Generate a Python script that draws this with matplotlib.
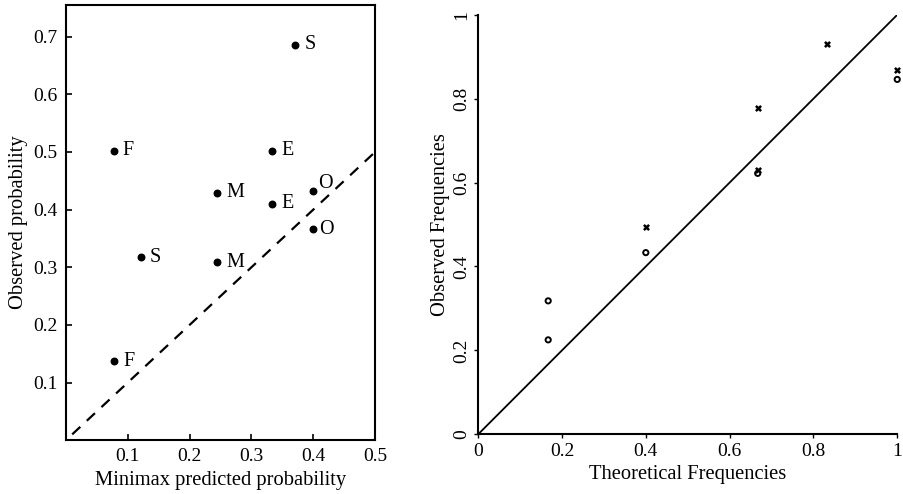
import matplotlib
matplotlib.use("Agg")
import matplotlib.pyplot as plt
import numpy as np

plt.rcParams['font.family'] = ['Liberation Serif', 'DejaVu Serif']

# left panel: minimax predicted vs observed probability
minimax_pred = [0.371, 0.077, 0.333, 0.245, 0.333, 0.399, 0.400, 0.121, 0.244, 0.078]
observed_prob = [0.686, 0.502, 0.502, 0.429, 0.410, 0.433, 0.366, 0.317, 0.309, 0.137]
point_labels = ['S', 'F', 'E', 'M', 'E', 'O', 'O', 'S', 'M', 'F']

# right panel: theoretical vs observed frequencies
theo_x = [0.4, 0.667, 0.667, 0.833, 1.0]
obs_x = [0.494, 0.777, 0.629, 0.931, 0.868]
theo_o = [0.167, 0.167, 0.4, 0.667, 1.0]
obs_o = [0.318, 0.225, 0.433, 0.622, 0.846]

fig = plt.figure(figsize=(9.04, 4.94), dpi=100)

# ---- left
ax1 = fig.add_axes([0.073, 0.109, 0.342, 0.881])
ax1.plot([0.01, 0.5], [0.01, 0.5], color='k', ls=(0, (5, 4)), lw=1.6)
ax1.scatter(minimax_pred, observed_prob, s=22, color='k', zorder=3)
for xi, yi, lab in zip(minimax_pred, observed_prob, point_labels):
    # the O labels sit closer to their dots
    dx = 0.009 if lab == 'O' else 0.015
    dy = 0.012 if (lab == 'O' and yi > 0.4) else 0
    ax1.text(xi + dx, yi + dy, lab, fontsize=14.5, va='center', ha='left')
ax1.set_xlim(0, 0.5)
ax1.set_ylim(0, 0.755)
ax1.set_xticks([0.1, 0.2, 0.3, 0.4, 0.5])
ax1.set_yticks([0.1, 0.2, 0.3, 0.4, 0.5, 0.6, 0.7])
ax1.set_xticklabels(['0.1', '0.2', '0.3', '0.4', '0.5'])
ax1.set_yticklabels(['0.1', '0.2', '0.3', '0.4', '0.5', '0.6', '0.7'])
ax1.tick_params(direction='in', length=4, width=1.2, labelsize=14, pad=6)
for sp in ax1.spines.values():
    sp.set_linewidth(1.5)
ax1.set_xlabel('Minimax predicted probability', fontsize=14.8, labelpad=4)
ax1.set_ylabel('Observed probability', fontsize=14.8, labelpad=4)

# ---- right
ax2 = fig.add_axes([0.529, 0.121, 0.4635, 0.849])
ax2.plot([0, 1], [0, 1], color='k', lw=1.3)
ax2.scatter(theo_x, obs_x, marker='x', s=14, color='k', linewidths=1.8, clip_on=False, zorder=3)
ax2.scatter(theo_o, obs_o, marker='o', s=14, facecolors='none', edgecolors='k', linewidths=1.4, clip_on=False, zorder=3)
ax2.set_xlim(0, 1)
ax2.set_ylim(0, 1)
ticks = [0, 0.2, 0.4, 0.6, 0.8, 1]
tick_labels = ['0', '0.2', '0.4', '0.6', '0.8', '1']
ax2.set_xticks(ticks)
ax2.set_xticklabels(tick_labels)
ax2.set_yticks(ticks)
ax2.set_yticklabels(tick_labels, rotation=90, va='center')
ax2.tick_params(direction='out', length=3, width=1.0, labelsize=14, pad=3)
ax2.spines['top'].set_visible(False)
ax2.spines['right'].set_visible(False)
ax2.spines['left'].set_linewidth(1.5)
ax2.spines['bottom'].set_linewidth(1.5)
ax2.set_xlabel('Theoretical Frequencies', fontsize=14.8, labelpad=4)
ax2.set_ylabel('Observed Frequencies', fontsize=14.8, labelpad=2)

fig.savefig('out.png', dpi=100)
